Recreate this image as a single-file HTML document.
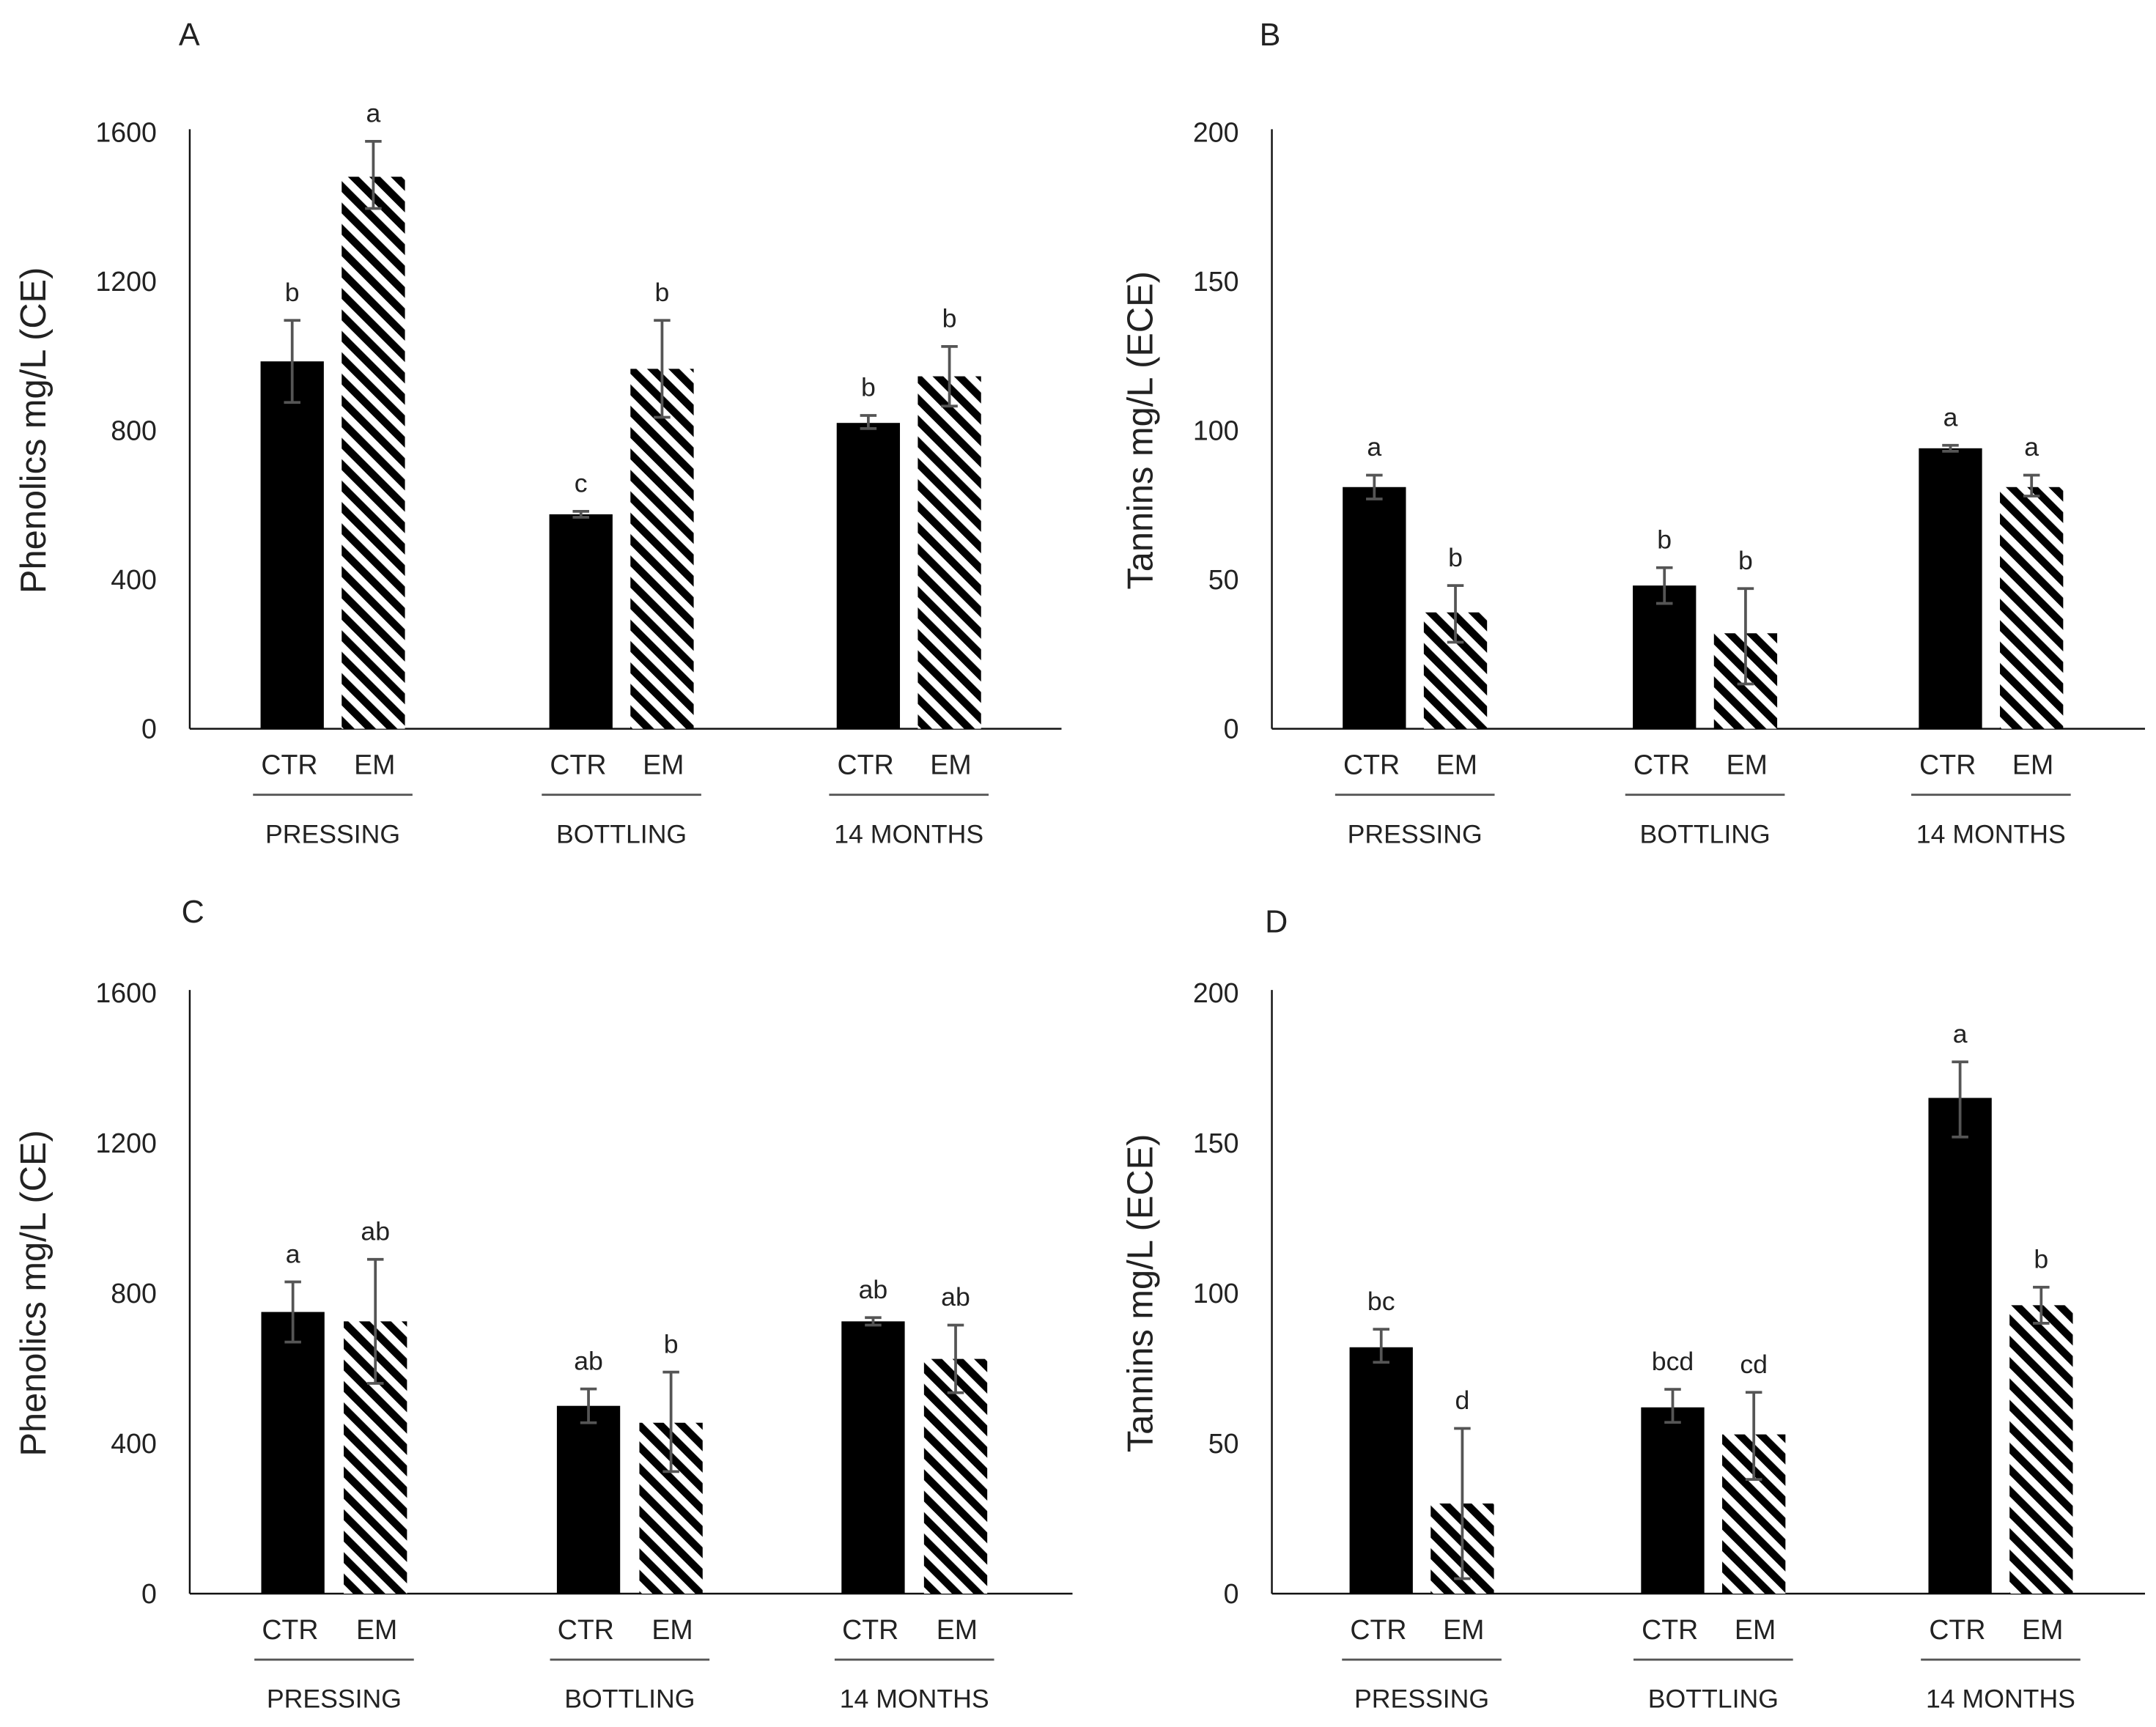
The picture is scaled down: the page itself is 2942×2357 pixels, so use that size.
<!DOCTYPE html>
<html><head><meta charset="utf-8"><style>
html,body{margin:0;padding:0;background:#fff}
svg{display:block}
text{font-family:"Liberation Sans",sans-serif;fill:#222}
</style></head><body>
<svg id="fig" width="2942" height="2357" viewBox="0 0 1568 1256" preserveAspectRatio="none" xmlns="http://www.w3.org/2000/svg">
<defs>
<pattern id="hatch" patternUnits="userSpaceOnUse" width="11" height="11" patternTransform="rotate(-45)">
<rect width="11" height="11" fill="#fff"/><rect width="5.6" height="11" fill="#000"/>
</pattern>
</defs>
</svg>
<script>
const groups = ["PRESSING","BOTTLING","14 MONTHS"];
const seriesNames = ["CTR","EM"];
// Panel A: phenolics
const aVals = [985, 1480, 575, 965, 820, 945];
const aErrLo = [875, 1395, 567, 835, 805, 865];
const aErrHi = [1095, 1575, 583, 1095, 840, 1025];
const aLetters = ["b","a","c","b","b","b"];
// Panel B: tannins
const bVals = [81, 39, 48, 32, 94, 81];
const bErrLo = [77, 29, 42, 15, 93, 78];
const bErrHi = [85, 48, 54, 47, 95, 85];
const bLetters = ["a","b","b","b","a","a"];
// Panel C: phenolics
const cVals = [750, 725, 500, 455, 725, 625];
const cErrLo = [670, 560, 455, 325, 715, 535];
const cErrHi = [830, 890, 545, 590, 735, 715];
const cLetters = ["a","ab","ab","b","ab","ab"];
// Panel D: tannins
const dVals = [82, 30, 62, 53, 165, 96];
const dErrLo = [77, 5, 57, 38, 152, 90];
const dErrHi = [88, 55, 68, 67, 177, 102];
const dLetters = ["bc","d","bcd","cd","a","b"];
const phenTicks = [0,400,800,1200,1600];
const tanTicks = [0,50,100,150,200];

const svg = document.getElementById('fig');
const NS = "http://www.w3.org/2000/svg";
function mk(tag, attrs, parent){
  const e = document.createElementNS(NS, tag);
  for (const k in attrs) e.setAttribute(k, attrs[k]);
  (parent||svg).appendChild(e);
  return e;
}
function txt(s, x, y, size, anchor, parent){
  const t = mk('text', {x:x, y:y, 'font-size':size, 'text-anchor':anchor||'middle'}, parent);
  t.textContent = s;
  return t;
}
function panel(p){
  const g = mk('g', {});
  
  
  const maxV = p.ticks[p.ticks.length-1];
  const yS = v => p.y0 - (v / maxV) * (p.y0 - p.yTop);
  const lt = txt(p.id, p.letterX, p.letterY, 23, 'start', g);
  
  
  const ax = mk('line', {x1:p.ax, y1:p.yTop-2, x2:p.ax, y2:p.y0, stroke:'#111', 'stroke-width':1.3}, g);
  
  
  const xl = mk('line', {x1:p.ax, y1:p.y0, x2:p.axEnd, y2:p.y0, stroke:'#111', 'stroke-width':1.3}, g);
  
  
  p.ticks.forEach(t => {
    const tl = txt(String(t), p.ax - 24, yS(t) + 7, 20, 'end', g);
    
    
  });
  const yt = txt(p.title, 0, 0, 26, 'middle', g);
  yt.setAttribute('transform', `translate(${p.titleX},${(p.y0+p.yTop)/2}) rotate(-90)`);
  
  
  const bw = 46;
  for (let i = 0; i < 6; i++){
    const gi = Math.floor(i/2), s = i%2;
    const cx = p.centers[gi] + (s ? p.gap/2 : -p.gap/2);
    const top = yS(p.vals[i]);
    const r = mk('rect', {x:cx-bw/2, y:top, width:bw, height:p.y0-top, fill: s ? 'url(#hatch)' : '#000'}, g);
    
    
    const lo = yS(p.lo[i]), hi = yS(p.hi[i]);
    const eb = mk('path', {d:`M${cx},${lo}V${hi}M${cx-6},${lo}H${cx+6}M${cx-6},${hi}H${cx+6}`, stroke:'#555', 'stroke-width':2, fill:'none'}, g);
    
    
    const sl = txt(p.letters[i], cx, hi - 14, 19, 'middle', g);
    
    
    const cl = txt(seriesNames[s], cx + (s ? 1 : -2), p.y0 + 33, 20, 'middle', g);
    
    
  }
  groups.forEach((gn, gi) => {
    const c = p.centers[gi];
    const ln = mk('line', {x1:c-58, y1:p.y0+48, x2:c+58, y2:p.y0+48, stroke:'#555', 'stroke-width':1.5}, g);
    
    
    const gl = txt(gn, c, p.y0 + 83, 19, 'middle', g);
    
    
  });
}
panel({id:'A', letterX:130, letterY:33, ax:138, axEnd:772, y0:530, yTop:96, ticks:phenTicks, title:'Phenolics mg/L (CE)', titleX:33,
  centers:[242,452,661], gap:59, vals:aVals, lo:aErrLo, hi:aErrHi, letters:aLetters});
panel({id:'B', letterX:916, letterY:33, ax:925, axEnd:1560, y0:530, yTop:96, ticks:tanTicks, title:'Tannins mg/L (ECE)', titleX:838,
  centers:[1029,1240,1448], gap:59, vals:bVals, lo:bErrLo, hi:bErrHi, letters:bLetters});
panel({id:'C', letterX:132, letterY:671, ax:138, axEnd:780, y0:1159, yTop:722, ticks:phenTicks, title:'Phenolics mg/L (CE)', titleX:33,
  centers:[243,458,665], gap:60, vals:cVals, lo:cErrLo, hi:cErrHi, letters:cLetters});
panel({id:'D', letterX:920, letterY:678, ax:925, axEnd:1560, y0:1159, yTop:722, ticks:tanTicks, title:'Tannins mg/L (ECE)', titleX:838,
  centers:[1034,1246,1455], gap:59, vals:dVals, lo:dErrLo, hi:dErrHi, letters:dLetters});
</script>
</body></html>
